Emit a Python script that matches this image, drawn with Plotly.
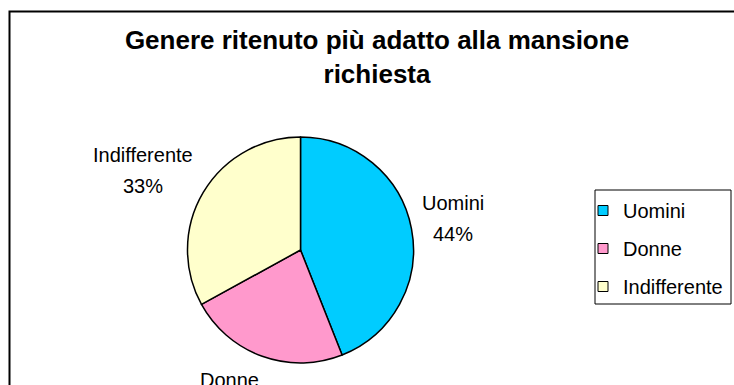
import plotly.graph_objects as go

# Survey answers: which gender is considered best suited for the job
categories = ["Uomini", "Donne", "Indifferente"]
values = [44, 23, 33]
colors = ["#00CCFF", "#FF99CC", "#FFFFCC"]
title_lines = ["Genere ritenuto più adatto alla mansione", "richiesta"]

W, H = 734, 385
FONT = "Liberation Sans, Arial, sans-serif"


def px(x):
    return x / W


def py(y):
    return 1 - y / H


fig = go.Figure()

# Pie (clockwise from 12 o'clock, centred at about (300, 250), radius 113 px)
cx, cy, r = 300.5, 250, 113
fig.add_trace(go.Pie(
    labels=categories,
    values=values,
    sort=False,
    direction="clockwise",
    rotation=0,
    marker=dict(colors=colors, line=dict(color="black", width=1.5)),
    textinfo="none",
    domain=dict(x=[px(cx - r), px(cx + r)], y=[py(cy + r), py(cy - r)]),
    showlegend=False,
    hoverinfo="label+percent",
))

# Slice labels: name on one line, share of the total on the next
label_xy = {"Uomini": (453, 203), "Donne": (229, 380), "Indifferente": (143, 155)}
line_gap = 31
total = sum(values)
annotations = []
for name, v in zip(categories, values):
    lx, ly = label_xy[name]
    for i, txt in enumerate([name, f"{round(100 * v / total)}%"]):
        annotations.append(dict(
            x=px(lx), y=py(ly + i * line_gap), xref="paper", yref="paper",
            text=txt, showarrow=False, xanchor="center", yanchor="middle",
            font=dict(family=FONT, size=20, color="black"),
        ))

# Legend entries (one group per category so the rows can be spaced out)
for name, col in zip(categories, colors):
    fig.add_trace(go.Scatter(
        x=[None], y=[None], mode="markers", name=name, legendgroup=name,
        marker=dict(symbol="square", size=10, color=col,
                    line=dict(color="black", width=1)),
    ))

fig.update_layout(
    width=W, height=H,
    margin=dict(l=0, r=0, t=0, b=0, autoexpand=False),
    paper_bgcolor="white", plot_bgcolor="white",
    title=dict(text="<br>".join(title_lines), x=px(377), xanchor="center",
               y=py(48.7), yanchor="top",
               font=dict(family=FONT, size=26, color="black", weight="bold")),
    xaxis=dict(visible=False), yaxis=dict(visible=False),
    legend=dict(x=px(583), xanchor="left", y=py(191), yanchor="top",
                font=dict(family=FONT, size=20, color="black"),
                bgcolor="rgba(0,0,0,0)", borderwidth=0,
                tracegroupgap=9),
    annotations=annotations,
    shapes=[
        # chart area frame (runs past the right and bottom edges)
        dict(type="rect", xref="paper", yref="paper",
             x0=px(9.5), x1=px(760), y0=py(11.5), y1=py(420),
             line=dict(color="black", width=2), fillcolor="rgba(0,0,0,0)"),
        # legend box
        dict(type="rect", xref="paper", yref="paper",
             x0=px(595), x1=px(731), y0=py(190), y1=py(304),
             line=dict(color="black", width=1), fillcolor="rgba(0,0,0,0)"),
    ],
)

fig.write_html("out.html")
